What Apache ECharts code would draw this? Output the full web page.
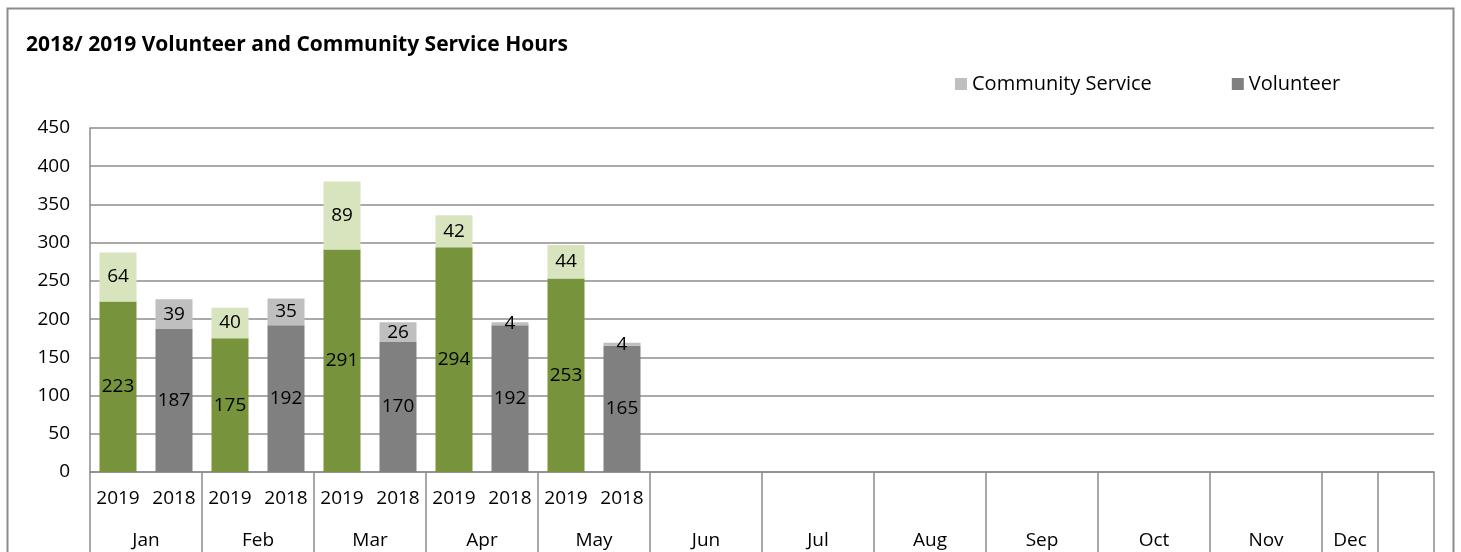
<!DOCTYPE html>
<html>
<head>
<meta charset="utf-8">
<script src="https://cdn.jsdelivr.net/npm/echarts@6/dist/echarts.min.js"></script>
<style>
  html, body { margin: 0; padding: 0; background: #fff; }
  #chart { width: 1461px; height: 552px; }
</style>
</head>
<body>
<div id="chart"></div>
<script>
const MONTHS = ['Jan', 'Feb', 'Mar', 'Apr', 'May', 'Jun', 'Jul', 'Aug', 'Sep', 'Oct', 'Nov', 'Dec'];
const YEARS = ['2019', '2018'];
// hours per month, Jan..May
const volunteer2019 = [223, 175, 291, 294, 253];
const community2019 = [64, 40, 89, 42, 44];
const volunteer2018 = [187, 192, 170, 192, 165];
const community2018 = [39, 35, 26, 4, 4];
const yTicks = { min: 0, max: 450, interval: 50 };

const GREEN = '#77933C', LIGHT_GREEN = '#D7E4BD';
const GRAY = '#808080', LIGHT_GRAY = '#BFBFBF';
const LINE = '#8c8c8c';
const FONT = 'Open Sans';

// 24 slots: month x year
var slots = [], volData = [], csData = [];
MONTHS.forEach(function(m, i) {
  YEARS.forEach(function(y, j) {
    var has = i < volunteer2019.length;
    slots.push(has ? y : '');
    if (!has) {
      volData.push('-');
      csData.push('-');
    } else if (y === '2019') {
      volData.push({ value: volunteer2019[i], itemStyle: { color: GREEN } });
      csData.push({ value: community2019[i], itemStyle: { color: LIGHT_GREEN } });
    } else {
      volData.push({ value: volunteer2018[i], itemStyle: { color: GRAY } });
      csData.push({ value: community2018[i], itemStyle: { color: LIGHT_GRAY } });
    }
  });
});

// month level: 49 half-slot points, Dec only takes one slot
var monthPts = [], sepIdx = {};
for (var k = 0; k <= 48; k++) monthPts.push('');
MONTHS.forEach(function(m, i) {
  if (i < 11) monthPts[i * 4 + 2] = m;
  else monthPts[45] = m;
});
for (var k = 0; k <= 44; k += 4) sepIdx[k] = true;
sepIdx[46] = true;
sepIdx[48] = true;

var chart = echarts.init(document.getElementById('chart'));
chart.setOption({
  animation: false,
  textStyle: { fontFamily: FONT },
  graphic: [{
    type: 'rect',
    shape: { x: 7.5, y: 8.5, width: 1446, height: 600 },
    style: { fill: 'none', stroke: LINE, lineWidth: 2 },
    silent: true
  }],
  title: {
    text: '2018/ 2019 Volunteer and Community Service Hours',
    left: 21, top: 30,
    textStyle: { fontFamily: FONT, fontSize: 21, fontWeight: 'bold', color: '#000' }
  },
  legend: {
    left: 950, top: 69,
    itemWidth: 12, itemHeight: 12, itemGap: 80,
    icon: 'rect',
    textStyle: { fontFamily: FONT, fontSize: 20, color: '#000' },
    data: ['Community Service', 'Volunteer']
  },
  grid: { left: 90, right: 27, top: 128, bottom: 80 },
  xAxis: [{
    type: 'category',
    data: slots,
    axisLine: { lineStyle: { color: LINE, width: 1.5 } },
    axisTick: { show: false },
    axisLabel: { interval: 0, margin: 17, fontSize: 19, color: '#000' }
  }, {
    type: 'category',
    position: 'bottom',
    boundaryGap: false,
    data: monthPts,
    axisLine: { show: false },
    axisTick: {
      length: 85,
      interval: function(idx) { return !!sepIdx[idx]; },
      lineStyle: { color: LINE, width: 1.5 }
    },
    axisLabel: { interval: 0, margin: 59, fontSize: 19, color: '#000' }
  }],
  yAxis: {
    type: 'value',
    min: yTicks.min, max: yTicks.max, interval: yTicks.interval,
    axisLine: { show: true, lineStyle: { color: LINE, width: 1.5 } },
    axisTick: { show: false },
    axisLabel: { margin: 20, fontSize: 19, color: '#000' },
    splitLine: { lineStyle: { color: LINE, width: 1.5 } }
  },
  series: [{
    name: 'Volunteer',
    type: 'bar',
    stack: 'hours',
    xAxisIndex: 0,
    barWidth: 37,
    color: GRAY,
    label: { show: true, position: 'inside', fontSize: 19, color: '#000', fontFamily: FONT },
    data: volData
  }, {
    name: 'Community Service',
    type: 'bar',
    stack: 'hours',
    xAxisIndex: 0,
    barWidth: 37,
    color: LIGHT_GRAY,
    label: { show: true, position: 'inside', fontSize: 19, color: '#000', fontFamily: FONT },
    data: csData
  }]
});
</script>
</body>
</html>
